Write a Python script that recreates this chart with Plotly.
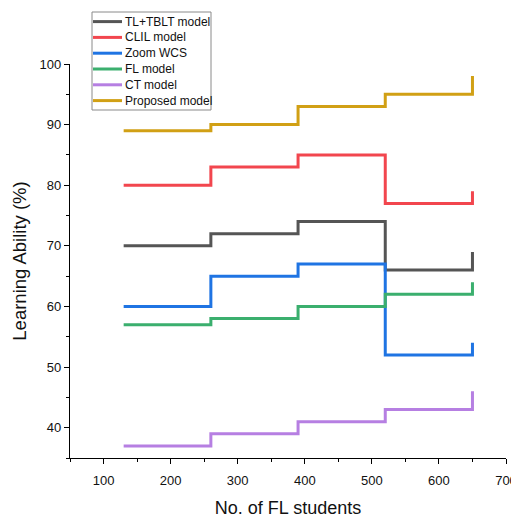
import plotly.graph_objects as go

students = [130, 260, 390, 520, 650]
tl_tblt = [70, 72, 74, 66, 69]
clil = [80, 83, 85, 77, 79]
zoom_wcs = [60, 65, 67, 52, 54]
fl_model = [57, 58, 60, 62, 64]
ct_model = [37, 39, 41, 43, 46]
proposed = [89, 90, 93, 95, 98]

series_names = ["TL+TBLT model", "CLIL model", "Zoom WCS", "FL model", "CT model", "Proposed model"]
series_values = [tl_tblt, clil, zoom_wcs, fl_model, ct_model, proposed]
series_colors = ["#555555", "#F2464E", "#1F74E3", "#3BAF6E", "#B67FE2", "#D1A015"]

# page is offset by the 8px body margin, so figure is 511x511
W, H = 511, 511
ML, MR, MT, MB = 62, 13, 56, 61
PW, PH = W - ML - MR, H - MT - MB


def px_x(x):  # figure pixel -> paper x
    return (x - ML) / PW


def px_y(y):  # figure pixel -> paper y
    return (H - MB - y) / PH


fig = go.Figure()
for name, vals, col in zip(series_names, series_values, series_colors):
    fig.add_trace(go.Scatter(x=students, y=vals, name=name, mode="lines",
                             line=dict(color=col, width=3, shape="hv"),
                             showlegend=False))

# compact legend drawn in paper coordinates
shapes = []
annotations = []
box_l, box_r, box_t, box_b = 84, 203, 4, 102
shapes.append(dict(type="rect", xref="paper", yref="paper",
                   x0=px_x(box_l), x1=px_x(box_r), y0=px_y(box_b), y1=px_y(box_t),
                   line=dict(color="#8a8a8a", width=1), fillcolor="white", layer="above"))
for i, (name, col) in enumerate(zip(series_names, series_colors)):
    yc = 13.6 + 15.8 * i
    shapes.append(dict(type="line", xref="paper", yref="paper",
                       x0=px_x(85), x1=px_x(114), y0=px_y(yc), y1=px_y(yc),
                       line=dict(color=col, width=3), layer="above"))
    annotations.append(dict(xref="paper", yref="paper", x=px_x(115), y=px_y(yc),
                            xanchor="left", yanchor="middle", text=name, showarrow=False,
                            font=dict(size=12, color="#111")))

axis_common = dict(showline=True, linecolor="black", linewidth=1.2, ticks="outside",
                   ticklen=5, tickcolor="black", showgrid=False, zeroline=False,
                   tickfont=dict(size=13, color="#111"), mirror=False)

fig.update_layout(
    width=W, height=H,
    margin=dict(l=ML, r=MR, t=MT, b=MB, autoexpand=False),
    paper_bgcolor="white", plot_bgcolor="white",
    font=dict(family="Liberation Sans, Arial, sans-serif", color="#111"),
    xaxis=dict(range=[50, 700], dtick=100, tick0=0, ticklabelstandoff=5,
               minor=dict(dtick=50, tick0=0, ticks="outside", ticklen=3, tickcolor="black"),
               title=dict(text="No. of FL students", font=dict(size=18), standoff=14),
               **axis_common),
    yaxis=dict(range=[35, 100], dtick=10, tick0=0,
               minor=dict(dtick=5, tick0=0, ticks="outside", ticklen=3, tickcolor="black"),
               title=dict(text="Learning Ability (%)", font=dict(size=18.5), standoff=8),
               **axis_common),
    shapes=shapes,
    annotations=annotations,
    showlegend=False,
)

fig.write_html("out.html")
